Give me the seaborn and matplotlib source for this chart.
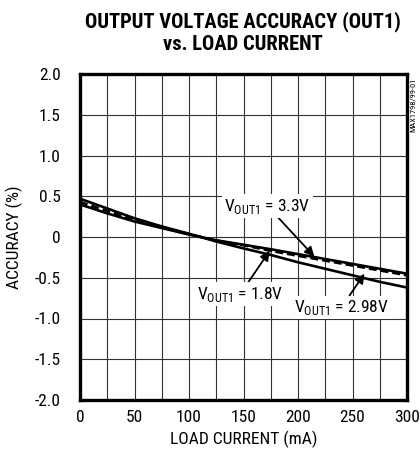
import numpy as np
import pandas as pd
import matplotlib
matplotlib.use("Agg")
import matplotlib.pyplot as plt
import seaborn as sns

# ---- datos ----
load_ma = [0, 25, 50, 75, 100, 125, 150, 175, 200, 225, 250, 275, 300]
acc_298 = [0.47, 0.35, 0.23, 0.13, 0.04, -0.055, -0.14, -0.22, -0.31, -0.39, -0.47, -0.55, -0.62]
acc_18  = [0.40, 0.29, 0.19, 0.11, 0.03, -0.04, -0.095, -0.15, -0.21, -0.27, -0.33, -0.39, -0.45]
acc_33  = [0.43, 0.32, 0.21, 0.12, 0.035, -0.045, -0.10, -0.17, -0.23, -0.29, -0.35, -0.41, -0.47]
series  = ["2.98V", "1.8V", "3.3V"]

x_ticks = [0, 50, 100, 150, 200, 250, 300]
y_ticks = [2.0, 1.5, 1.0, 0.5, 0.0, -0.5, -1.0, -1.5, -2.0]
y_labels = ["2.0", "1.5", "1.0", "0.5", "0", "-0.5", "-1.0", "-1.5", "-2.0"]

df = pd.DataFrame({
    "load": load_ma * 3,
    "acc": acc_298 + acc_18 + acc_33,
    "vout": sum([[s] * len(load_ma) for s in series], []),
})

sns.set_style("white")
FONT = "Roboto Condensed"
plt.rcParams["font.family"] = [FONT, "DejaVu Sans"]
plt.rcParams["mathtext.fontset"] = "custom"
plt.rcParams["mathtext.rm"] = FONT
for k in ["text.color", "axes.labelcolor", "xtick.color", "ytick.color"]:
    plt.rcParams[k] = "black"

fig = plt.figure(figsize=(4.2, 4.58), dpi=100)
ax = fig.add_axes([80 / 420, 1 - 400 / 458, 327 / 420, 326 / 458])

sns.lineplot(data=df, x="load", y="acc", hue="vout", style="vout",
             palette={s: "black" for s in series},
             dashes={"2.98V": "", "1.8V": "", "3.3V": (3, 1.5)},
             linewidth=1.9, legend=False, ax=ax, zorder=3)

ax.set_xlim(0, 300)
ax.set_ylim(-2.0, 2.0)
ax.set_xticks(x_ticks)
ax.set_xticks(np.arange(25, 300, 50), minor=True)
ax.set_yticks(y_ticks)
ax.set_yticklabels(y_labels)
ax.tick_params(axis="both", which="both", length=0, labelsize=12.5, colors="black")
ax.tick_params(axis="x", pad=7)
ax.tick_params(axis="y", pad=14)
ax.grid(True, which="both", color="#333333", linewidth=0.8)
for sp in ax.spines.values():
    sp.set_linewidth(2.4)
    sp.set_color("black")

ax.set_xlabel("LOAD CURRENT (mA)", fontsize=12.5, labelpad=4)
ax.set_ylabel("ACCURACY (%)", fontsize=12.5, labelpad=8)

# etiquetas con flecha
box = dict(facecolor="white", edgecolor="none", pad=1.5)
arrow = dict(arrowstyle="-|>", color="black", lw=1.3, mutation_scale=14, shrinkA=0, shrinkB=0)
ax.annotate(r"V$_{\mathrm{OUT1}}$ = 3.3V", xy=(215, -0.24), xytext=(172, 0.38),
            fontsize=12.5, ha="center", va="center", bbox=box, arrowprops=arrow, zorder=5)
ax.annotate(r"V$_{\mathrm{OUT1}}$ = 1.8V", xy=(174, -0.17), xytext=(147, -0.70),
            fontsize=12.5, ha="center", va="center", bbox=box, arrowprops=arrow, zorder=5)
ax.annotate(r"V$_{\mathrm{OUT1}}$ = 2.98V", xy=(261, -0.45), xytext=(240, -0.86),
            fontsize=12.5, ha="center", va="center", bbox=box, arrowprops=arrow, zorder=5)

fig.text(243 / 420, 1 - 22 / 458, "OUTPUT VOLTAGE ACCURACY (OUT1)", ha="center", va="center",
         fontsize=14.8, fontweight="bold")
fig.text(243 / 420, 1 - 45 / 458, "vs. LOAD CURRENT", ha="center", va="center",
         fontsize=14.8, fontweight="bold")
fig.text(413 / 420, 1 - 105 / 458, "MAX1798/99-01", ha="center", va="center",
         rotation=90, fontsize=6)

fig.savefig("out.png", dpi=100)
